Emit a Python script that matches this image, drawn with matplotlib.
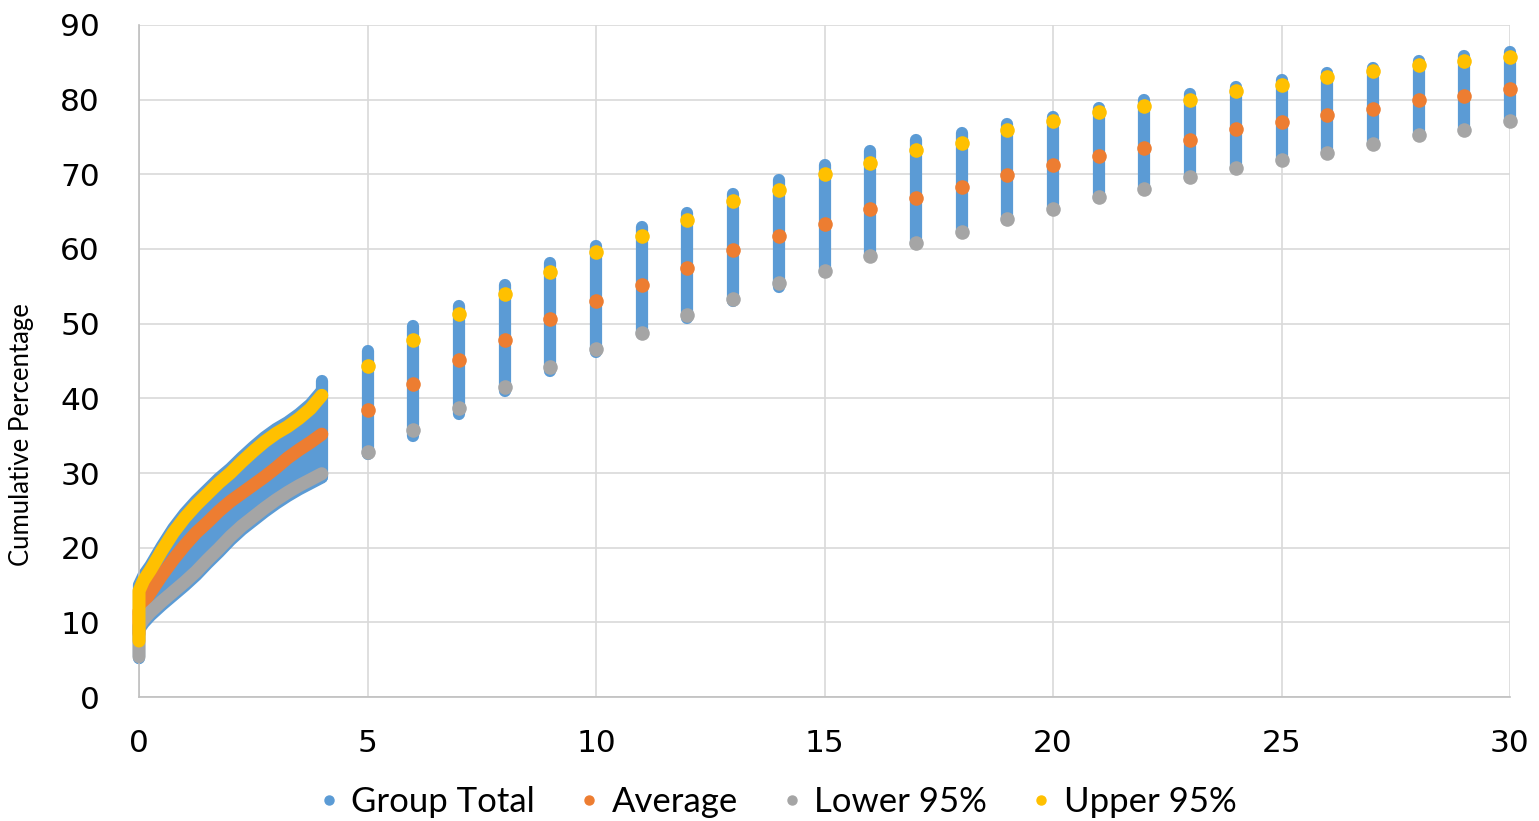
import matplotlib
matplotlib.use("Agg")
import matplotlib.pyplot as plt
from matplotlib.lines import Line2D

# ---------------- data ----------------
# dense early part (x from 0 to 4)
dense_x = [0, 0, 0.1, 0.25, 0.5, 0.75, 1.0, 1.25, 1.5, 1.75, 2.0, 2.25, 2.5, 2.75, 3.0, 3.25, 3.5, 3.75, 4.0]
dense_upper = [7.5, 14.2, 15.6, 17.0, 19.6, 22.0, 24.0, 25.7, 27.2, 28.7, 30.0, 31.5, 32.9, 34.2, 35.3, 36.2, 37.3, 38.6, 40.4]
dense_avg = [8.5, 11.5, 12.6, 14.0, 16.3, 18.4, 20.3, 22.0, 23.4, 24.9, 26.2, 27.3, 28.4, 29.5, 30.7, 32.0, 33.1, 34.1, 35.2]
dense_lower = [5.4, 9.5, 10.4, 11.4, 12.8, 14.1, 15.4, 16.8, 18.4, 19.9, 21.5, 22.9, 24.1, 25.3, 26.4, 27.4, 28.3, 29.1, 29.9]
dense_group_lo = [5.2, 9.0, 9.9, 10.9, 12.3, 13.6, 14.9, 16.3, 17.9, 19.4, 21.0, 22.4, 23.6, 24.8, 25.9, 26.9, 27.8, 28.6, 29.4]
dense_group_hi = [11.0, 15.0, 16.3, 17.6, 20.2, 22.6, 24.6, 26.3, 27.8, 29.3, 30.6, 32.1, 33.5, 34.8, 35.9, 36.8, 37.9, 39.2, 41.0]

# yearly columns (x = 4 .. 30)
col_x = list(range(4, 31))
col_group_lo = [29.4, 32.5, 35.0, 37.9, 41.0, 43.7, 46.2, 48.6, 50.8, 53.1, 54.9, 56.9, 59.0, 60.7,
                62.4, 63.9, 65.4, 66.8, 68.0, 69.5, 70.7, 71.9, 72.9, 74.0, 75.3, 75.9, 77.2]
col_group_hi = [42.3, 46.3, 49.7, 52.4, 55.2, 58.1, 60.4, 63.0, 64.8, 67.4, 69.3, 71.2, 73.1, 74.6,
                75.6, 76.7, 77.7, 78.9, 80.0, 80.8, 81.7, 82.7, 83.6, 84.3, 85.2, 85.8, 86.4]
col_upper = [40.4, 44.3, 47.8, 51.3, 54.0, 56.9, 59.6, 61.7, 63.9, 66.4, 67.9, 70.0, 71.5, 73.2,
             74.2, 75.9, 77.1, 78.4, 79.1, 80.0, 81.2, 82.0, 83.1, 83.8, 84.6, 85.2, 85.7]
col_avg = [35.2, 38.5, 41.9, 45.1, 47.8, 50.6, 53.1, 55.2, 57.5, 59.9, 61.7, 63.4, 65.3, 66.8,
           68.3, 69.9, 71.2, 72.5, 73.5, 74.6, 76.1, 77.0, 77.9, 78.8, 79.9, 80.5, 81.4]
col_lower = [29.9, 32.8, 35.8, 38.7, 41.5, 44.2, 46.6, 48.8, 51.2, 53.3, 55.4, 57.1, 59.1, 60.8,
             62.3, 64.0, 65.3, 66.9, 68.1, 69.6, 70.8, 71.9, 72.9, 74.1, 75.3, 75.9, 77.2]

series_names = ["Group Total", "Average", "Lower 95%", "Upper 95%"]
x_ticks = [0, 5, 10, 15, 20, 25, 30]
y_ticks = [0, 10, 20, 30, 40, 50, 60, 70, 80, 90]

# ---------------- style ----------------
C_BLUE = "#5B9BD5"
C_ORANGE = "#ED7D31"
C_GRAY = "#A5A5A5"
C_YELLOW = "#FFC000"
LW = 8.8      # points, ~12 px
MS = 110      # scatter area

W, H = 1539, 821
fig = plt.figure(figsize=(W / 100, H / 100), dpi=100)
ax = fig.add_axes([139 / W, 1 - 697 / H, (1510 - 139) / W, (697 - 25) / H])
ax.set_xlim(0, 30)
ax.set_ylim(0, 90)

# Group total: dense band
ax.fill_between(dense_x, dense_group_lo, dense_group_hi, color=C_BLUE, lw=0, zorder=2, clip_on=False)
for arr in (dense_group_lo, dense_group_hi):
    ax.plot(dense_x, arr, color=C_BLUE, lw=LW, solid_capstyle="round", solid_joinstyle="round",
            zorder=2, clip_on=False)
# Group total: columns
vl = ax.vlines(col_x, col_group_lo, col_group_hi, color=C_BLUE, lw=LW, zorder=2, clip_on=False)
vl.set_capstyle("round")

# Average / Lower / Upper curves in dense part
for arr, c, z in ((dense_avg, C_ORANGE, 3), (dense_lower, C_GRAY, 4), (dense_upper, C_YELLOW, 5)):
    ax.plot(dense_x, arr, color=c, lw=LW + 0.6, solid_capstyle="round", solid_joinstyle="round",
            zorder=z, clip_on=False)

# Markers on columns
ax.scatter(col_x[1:], col_avg[1:], s=MS, color=C_ORANGE, lw=0, zorder=3, clip_on=False)
ax.scatter(col_x[1:], col_lower[1:], s=MS, color=C_GRAY, lw=0, zorder=4, clip_on=False)
ax.scatter(col_x[1:], col_upper[1:], s=MS, color=C_YELLOW, lw=0, zorder=5, clip_on=False)

# axes styling
ax.set_xticks(x_ticks)
ax.set_yticks(y_ticks)
ax.grid(True, color="#D9D9D9", lw=1.2, zorder=0)
ax.set_axisbelow(True)
for s in ("top", "right"):
    ax.spines[s].set_visible(False)
for s in ("left", "bottom"):
    ax.spines[s].set_color("#BFBFBF")
    ax.spines[s].set_linewidth(1.2)
ax.tick_params(axis="both", length=0, labelsize=22.5, labelcolor="#000000")
ax.tick_params(axis="y", pad=28)
ax.tick_params(axis="x", pad=23)
for lab in ax.get_xticklabels() + ax.get_yticklabels():
    lab.set_family("DejaVu Sans")

fig.text(22 / W, 1 - 435 / H, "Cumulative Percentage", rotation=90, ha="center", va="center",
         fontsize=18.5, family="Lato", color="#000000")

handles = [Line2D([], [], ls="none", marker="o", ms=6.5, mfc=c, mec=c)
           for c in (C_BLUE, C_ORANGE, C_GRAY, C_YELLOW)]
fig.legend(handles, series_names, loc="center", bbox_to_anchor=(780 / W, 1 - 802 / H),
           ncol=4, frameon=False, prop={"family": "Lato", "size": 25},
           handlelength=0.3, handletextpad=0.5, columnspacing=1.4, borderpad=0)

fig.savefig("out.png", dpi=100)
